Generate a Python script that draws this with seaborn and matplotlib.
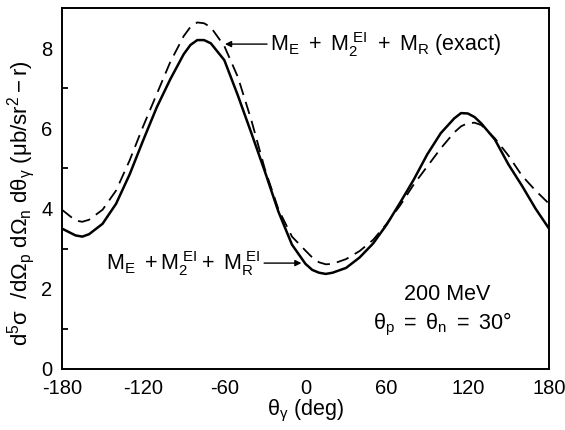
import matplotlib
matplotlib.use("Agg")
import matplotlib.pyplot as plt
import seaborn as sns
import pandas as pd
from matplotlib.ticker import FixedLocator

# ---- data ----
theta = [-180, -170, -165, -160, -150, -140, -130, -120, -110, -100, -90, -85, -80, -75,
         -70, -60, -50, -40, -30, -20, -10, 0, 5, 10, 15, 20, 30, 40, 50, 60, 70, 80,
         90, 100, 110, 115, 120, 125, 130, 140, 150, 160, 170, 180]
approx_e1 = [3.50, 3.33, 3.30, 3.36, 3.62, 4.12, 4.85, 5.70, 6.52, 7.22, 7.85, 8.08, 8.20, 8.20,
             8.12, 7.70, 6.82, 5.88, 4.92, 3.92, 3.10, 2.62, 2.47, 2.40, 2.37, 2.40, 2.52, 2.78,
             3.13, 3.60, 4.15, 4.72, 5.35, 5.88, 6.25, 6.38, 6.37, 6.28, 6.12, 5.72, 5.10,
             4.57, 4.00, 3.50]
exact = [3.97, 3.70, 3.67, 3.72, 3.97, 4.45, 5.20, 6.05, 6.85, 7.65, 8.30, 8.53, 8.64, 8.62,
         8.52, 8.05, 7.28, 6.20, 4.98, 3.98, 3.30, 2.95, 2.78, 2.66, 2.61, 2.62, 2.74, 2.94,
         3.22, 3.62, 4.08, 4.60, 5.05, 5.50, 5.90, 6.05, 6.13, 6.14, 6.08, 5.75, 5.32,
         4.82, 4.45, 4.12]
x_ticks = [-180, -120, -60, 0, 60, 120, 180]
y_ticks = [0, 2, 4, 6, 8]
label_exact = r"$\mathregular{M_E\ +\ M_2^{\ EI}\ +\ M_R\ (exact)}$"
label_e1 = r"$\mathregular{M_E\ +M_2^{\ EI}+\ M_R^{\ EI}}$"
energy_text = "200 MeV"
angle_text = r"$\theta_p\ =\ \theta_n\ =\ 30°$"

sns.set_theme(style="white")
plt.rcParams.update({
    "font.family": ["Liberation Sans", "DejaVu Sans"],
    "mathtext.fontset": "custom",
    "mathtext.rm": "Liberation Sans",
    "mathtext.it": "Liberation Sans:italic",
    "mathtext.bf": "Liberation Sans:bold",
    "mathtext.default": "regular",
    "axes.unicode_minus": False,
    "axes.edgecolor": "black",
    "axes.linewidth": 1.4,
    "xtick.color": "black",
    "ytick.color": "black",
    "text.color": "black",
    "axes.labelcolor": "black",
})

fig = plt.figure(figsize=(5.65, 4.30), dpi=100)
ax = fig.add_axes([0.1097, 0.1419, 0.8620, 0.8395])

df = pd.DataFrame({"theta": theta, "approx": approx_e1, "exact": exact})
sns.lineplot(data=df, x="theta", y="approx", ax=ax, color="black", lw=1.8)
sns.lineplot(data=df, x="theta", y="exact", ax=ax, color="black", lw=1.3,
             linestyle=(0, (7, 4)))

ax.set_xlim(-180, 180)
ax.set_ylim(0, 9.0)
ax.xaxis.set_major_locator(FixedLocator(x_ticks))
ax.yaxis.set_major_locator(FixedLocator(y_ticks))
ax.yaxis.set_minor_locator(FixedLocator([1, 3, 5, 7]))
ax.set_xticklabels([str(v) for v in x_ticks])
ax.set_yticklabels([str(v) for v in y_ticks])
ax.tick_params(axis="both", which="major", direction="in", length=10, width=1.3,
               labelsize=14.5, top=False, right=False)
ax.tick_params(axis="y", which="minor", direction="in", length=4.5, width=1.3,
               left=True, right=False)
ax.tick_params(axis="x", which="major", pad=7)
ax.tick_params(axis="y", which="major", pad=7)
for s in ax.spines.values():
    s.set_visible(True)
    s.set_color("black")

ax.set_xlabel(r"$\theta_{\gamma}$ (deg)", fontsize=15.5, labelpad=0)
ax.set_ylabel(r"$\mathregular{d^5\sigma\ \ /d\Omega_p\ d\Omega_n\ d\theta_\gamma\ (\mu b/sr^2-r)}$",
              fontsize=16)
ax.yaxis.set_label_coords(-0.052, 0.46)

arrow = dict(arrowstyle="-|>", color="black", lw=1.0, mutation_scale=9,
             shrinkA=0, shrinkB=0)
ax.annotate(label_exact, xy=(-59.5, 8.1), xytext=(-26, 8.1), fontsize=15.5,
            ha="left", va="center", arrowprops=arrow)
ax.annotate(label_e1, xy=(-3, 2.64), xytext=(-33, 2.64), fontsize=15.5,
            ha="right", va="center", arrowprops=arrow)
ax.text(105, 1.85, energy_text, fontsize=15.5, ha="center", va="center")
ax.text(101, 1.12, angle_text, fontsize=15.5, ha="center", va="center")

if ax.legend_:
    ax.legend_.remove()
fig.savefig("out.png", dpi=100)
